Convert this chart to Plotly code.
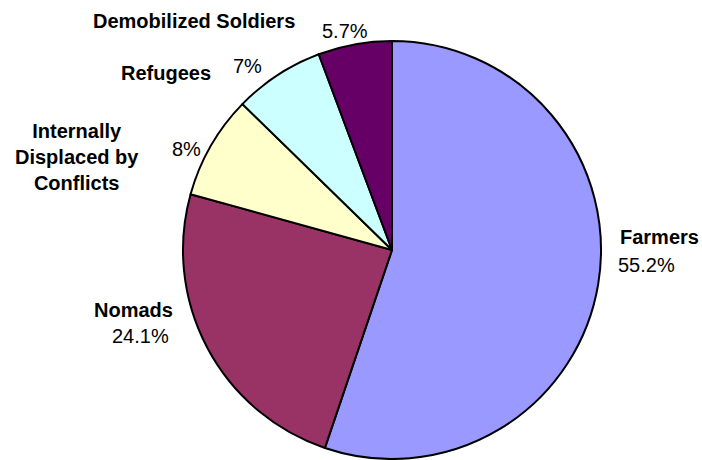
import plotly.graph_objects as go

# Data
categories = ["Farmers", "Nomads", "Internally<br>Displaced by<br>Conflicts", "Refugees", "Demobilized Soldiers"]
values = [55.2, 24.1, 8, 7, 5.7]
percent_labels = ["55.2%", "24.1%", "8%", "7%", "5.7%"]
colors = ["#9999FF", "#993366", "#FFFFCC", "#CCFFFF", "#660066"]

W, H = 702, 460

# Label positions in pixels (center x, cap-center y)
name_pos = [(659, 236.5), (133, 310), (77, 157), (165.5, 72.5), (194, 21)]
pct_pos = [(646, 264.5), (140, 335.5), (186, 148.5), (247, 66), (345, 31.5)]

cx, cy, r = 392, 250, 209

fig = go.Figure(go.Pie(
    labels=[c.replace("<br>", " ") for c in categories],
    values=values,
    sort=False,
    direction="clockwise",
    rotation=0,
    textinfo="none",
    hoverinfo="label+percent",
    marker=dict(colors=colors, line=dict(color="black", width=2)),
    domain=dict(x=[(cx - r) / W, (cx + r) / W], y=[1 - (cy + r) / H, 1 - (cy - r) / H]),
    showlegend=False,
))

font = dict(family="Liberation Sans, Arial, sans-serif", size=20, color="black")
annotations = []
for name, (x, y) in zip(categories, name_pos):
    annotations.append(dict(text="<b>" + name.replace("<br>", "</b><br><b>") + "</b>",
                            x=x / W, y=1 - y / H, xref="paper", yref="paper",
                            xanchor="center", yanchor="middle", showarrow=False,
                            font=font, align="center"))
for pct, (x, y) in zip(percent_labels, pct_pos):
    annotations.append(dict(text=pct, x=x / W, y=1 - y / H, xref="paper", yref="paper",
                            xanchor="center", yanchor="middle", showarrow=False,
                            font=font))

fig.update_layout(
    width=W, height=H,
    margin=dict(l=0, r=0, t=0, b=0),
    paper_bgcolor="white", plot_bgcolor="white",
    annotations=annotations,
)

fig.write_html("out.html",
               config={"displayModeBar": False},
               post_script="document.body.style.margin='0';document.body.style.overflow='hidden';")
